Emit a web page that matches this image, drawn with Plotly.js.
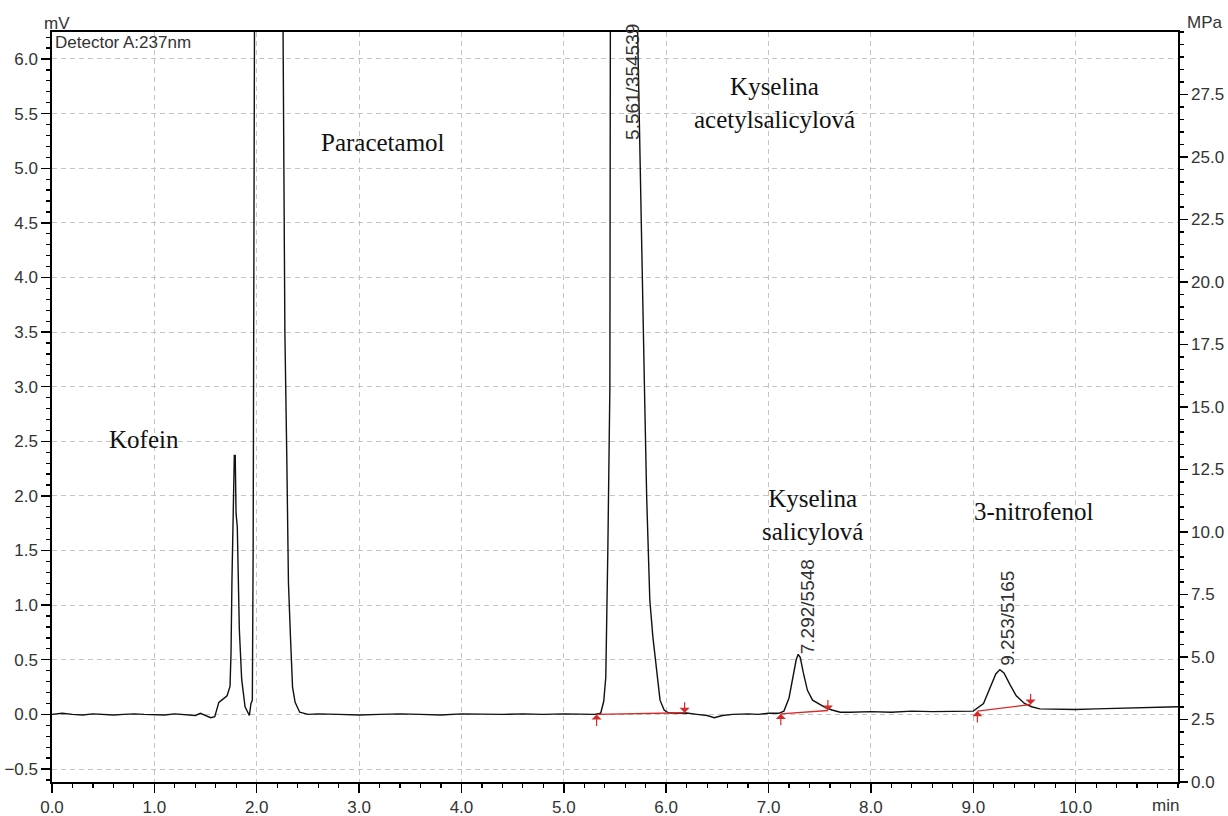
<!DOCTYPE html>
<html>
<head>
<meta charset="utf-8">
<script src="https://cdn.plot.ly/plotly-3.0.1.min.js"></script>
<style>
  html, body { margin: 0; padding: 0; background: #fff; }
  #chart { width: 1228px; height: 816px; }
</style>
</head>
<body>
<div id="chart"></div>
<script>
// ---- Chromatogram signal (time in min, signal in mV) ----
const timeMin = [
  0.00, 0.10, 0.20, 0.30, 0.40, 0.50, 0.60, 0.70, 0.80, 0.90,
  1.00, 1.10, 1.20, 1.30, 1.40, 1.45, 1.50, 1.55, 1.59,
  1.61, 1.63, 1.67, 1.71, 1.739, 1.749, 1.758, 1.772, 1.781, 1.79, 1.798,
  1.81, 1.83, 1.853, 1.886, 1.928, 1.944, 1.957, 1.965, 1.978,
  2.12,
  2.257, 2.275, 2.293, 2.31, 2.33, 2.35, 2.375, 2.42, 2.50,
  2.60, 2.80, 3.00, 3.20, 3.40, 3.60, 3.80, 4.00, 4.20, 4.40,
  4.60, 4.80, 5.00, 5.20, 5.30, 5.36, 5.39, 5.41, 5.42, 5.43,
  5.45, 5.46, 5.47,
  5.56,
  5.72, 5.744, 5.77, 5.79, 5.81, 5.84, 5.87, 5.90, 5.94, 5.98,
  6.02, 6.10, 6.20, 6.30, 6.40, 6.47, 6.55, 6.65, 6.80, 6.90,
  7.00, 7.10, 7.15, 7.20, 7.24, 7.27, 7.29, 7.31, 7.34, 7.38,
  7.43, 7.50, 7.56, 7.62, 7.70, 7.80, 8.00, 8.20, 8.40, 8.60,
  8.80, 9.00, 9.10, 9.17, 9.22, 9.26, 9.30, 9.36, 9.42, 9.50,
  9.57, 9.65, 9.80, 10.00, 10.20, 10.40, 10.60, 10.80, 11.00
];
const signalMV = [
  0.000, 0.010, 0.000, -0.005, 0.005, 0.000, -0.005, 0.000, 0.005, 0.000,
  0.000, -0.005, 0.005, 0.000, -0.010, 0.010, -0.010, -0.030, -0.020,
  0.060, 0.110, 0.140, 0.170, 0.256, 0.560, 1.230, 2.030, 2.370, 2.370, 1.840,
  1.720, 0.780, 0.320, 0.070, -0.010, 0.100, 0.130, 1.500, 6.300,
  45.0,
  6.300, 3.500, 2.400, 1.200, 0.700, 0.250, 0.110, 0.020, 0.000,
  0.005, 0.000, -0.005, 0.000, 0.005, 0.000, -0.005, 0.005, 0.000, 0.000,
  0.005, 0.000, 0.005, 0.000, 0.000, 0.010, 0.120, 0.340, 0.770, 1.500,
  3.000, 5.000, 6.300,
  80.0,
  6.300, 5.000, 3.800, 2.880, 1.970, 1.050, 0.710, 0.440, 0.130, 0.040,
  0.015, 0.010, 0.012, 0.000, -0.010, -0.030, -0.010, 0.000, 0.005, 0.000,
  0.010, 0.010, 0.030, 0.150, 0.350, 0.500, 0.550, 0.520, 0.380, 0.220,
  0.130, 0.090, 0.060, 0.040, 0.020, 0.020, 0.025, 0.020, 0.030, 0.025,
  0.030, 0.030, 0.100, 0.250, 0.370, 0.410, 0.380, 0.270, 0.170, 0.100,
  0.070, 0.050, 0.045, 0.045, 0.050, 0.055, 0.060, 0.065, 0.070
];

// ---- Integration baselines (red) ----
const baseStartT = [5.32, 7.12, 9.04];
const baseStartV = [0.000, 0.005, 0.030];
const baseEndT   = [6.18, 7.58, 9.56];
const baseEndV   = [0.015, 0.036, 0.090];

// ---- Peak labels ----
const peakLabels = ["5.561/354539", "7.292/5548", "9.253/5165"];
const peakLabelT = [5.676, 7.376, 9.340];
const peakLabelV = [5.79, 0.981, 0.876];

const compoundNames = ["Kofein", "Paracetamol", "Kyselina<br>acetylsalicylová", "Kyselina<br>salicylová", "3-nitrofenol"];
const compoundT = [0.894, 3.234, 7.063, 7.425, 9.584];
const compoundV = [2.515, 5.234, 5.60, 1.828, 1.856];

// ---- Axis ticks ----
const xTickVals = [0,1,2,3,4,5,6,7,8,9,10];
const xTickText = ["0.0","1.0","2.0","3.0","4.0","5.0","6.0","7.0","8.0","9.0","10.0"];
const y2TickVals = [0,2.5,5,7.5,10,12.5,15,17.5,20,22.5,25,27.5];
const y2TickText = ["0.0","2.5","5.0","7.5","10.0","12.5","15.0","17.5","20.0","22.5","25.0","27.5"];

const RED = '#d42a2a';
const TICKFONT = {family: 'Liberation Sans, Arial, sans-serif', size: 17, color: '#333333'};
const SERIF = {family: 'Liberation Serif, Times New Roman, serif', size: 25, color: '#111111'};

const traces = [
  {
    x: timeMin, y: signalMV, type: 'scatter', mode: 'lines',
    line: {color: '#111111', width: 1.4},
    cliponaxis: true, hoverinfo: 'skip', showlegend: false
  }
];
for (let i = 0; i < baseStartT.length; i++) {
  traces.push({
    x: [baseStartT[i], baseEndT[i]], y: [baseStartV[i], baseEndV[i]],
    type: 'scatter', mode: 'lines',
    line: {color: RED, width: 1.4},
    hoverinfo: 'skip', showlegend: false
  });
}
// dummy trace on y2 so the right axis is drawn
traces.push({x: [0], y: [0], yaxis: 'y2', type: 'scatter', mode: 'markers',
  marker: {opacity: 0}, hoverinfo: 'skip', showlegend: false});

const annotations = [];
for (let i = 0; i < baseStartT.length; i++) {
  annotations.push({x: baseStartT[i], y: baseStartV[i], xref: 'x', yref: 'y', text: '',
    showarrow: true, ax: 0, ay: 13, arrowhead: 1, arrowsize: 1.4, arrowwidth: 1.2, arrowcolor: RED, standoff: 0});
  annotations.push({x: baseEndT[i], y: baseEndV[i], xref: 'x', yref: 'y', text: '',
    showarrow: true, ax: 0, ay: -12, arrowhead: 1, arrowsize: 1.4, arrowwidth: 1.2, arrowcolor: RED, standoff: 0});
}
for (let i = 0; i < peakLabels.length; i++) {
  annotations.push({x: peakLabelT[i], y: peakLabelV[i], xref: 'x', yref: 'y', text: peakLabels[i],
    textangle: -90, showarrow: false, xanchor: 'center', yanchor: 'middle',
    font: {family: 'Liberation Sans, Arial, sans-serif', size: 19, color: '#333333'}});
}
for (let i = 0; i < compoundNames.length; i++) {
  annotations.push({x: compoundT[i], y: compoundV[i], xref: 'x', yref: 'y', text: compoundNames[i],
    showarrow: false, xanchor: 'center', yanchor: 'middle', font: SERIF});
}
annotations.push({x: 0.01, y: 6.149, xref: 'x', yref: 'y', text: 'Detector A:237nm', showarrow: false,
  xanchor: 'left', yanchor: 'middle', font: TICKFONT});
annotations.push({x: 0.0044, y: 1.011, xref: 'paper', yref: 'paper', text: 'mV', showarrow: false,
  xanchor: 'center', yanchor: 'middle', font: TICKFONT});
annotations.push({x: 1.024, y: 1.013, xref: 'paper', yref: 'paper', text: 'MPa', showarrow: false,
  xanchor: 'center', yanchor: 'middle', font: TICKFONT});
annotations.push({x: 0.9885, y: -0.0316, xref: 'paper', yref: 'paper', text: 'min', showarrow: false,
  xanchor: 'center', yanchor: 'middle', font: TICKFONT});

const layout = {
  width: 1228, height: 816,
  margin: {l: 52, r: 50, t: 32, b: 34, pad: 0},
  paper_bgcolor: '#ffffff', plot_bgcolor: '#ffffff',
  showlegend: false,
  xaxis: {
    range: [0, 11], tickmode: 'array', tickvals: xTickVals, ticktext: xTickText,
    showline: true, linecolor: '#000', linewidth: 1.6, mirror: true,
    ticks: 'outside', ticklen: 9, tickwidth: 1.4, tickcolor: '#000',
    minor: {dtick: 0.2, tick0: 0, ticks: 'outside', ticklen: 4, tickwidth: 1.2, tickcolor: '#000', showgrid: false},
    showgrid: true, gridcolor: '#c4c4c4', griddash: '5px,4px', gridwidth: 1,
    zeroline: false, tickfont: TICKFONT, automargin: false
  },
  yaxis: {
    range: [-0.619, 6.247], dtick: 0.5, tick0: 0, tickformat: '.1f',
    showline: true, linecolor: '#000', linewidth: 1.6,
    ticks: 'outside', ticklen: 9, tickwidth: 1.4, tickcolor: '#000',
    minor: {dtick: 0.1, tick0: 0, ticks: 'outside', ticklen: 4, tickwidth: 1.2, tickcolor: '#000', showgrid: false},
    showgrid: true, gridcolor: '#c4c4c4', griddash: '5px,4px', gridwidth: 1,
    zeroline: false, tickfont: TICKFONT, automargin: false
  },
  yaxis2: {
    overlaying: 'y', side: 'right', range: [0, 30],
    tickmode: 'array', tickvals: y2TickVals, ticktext: y2TickText,
    showline: true, linecolor: '#000', linewidth: 1.6,
    ticks: 'outside', ticklen: 8, tickwidth: 1.4, tickcolor: '#000',
    minor: {dtick: 0.5, tick0: 0, ticks: 'outside', ticklen: 4, tickwidth: 1.2, tickcolor: '#000', showgrid: false},
    showgrid: false, zeroline: false, tickfont: TICKFONT, automargin: false
  },
  annotations: annotations
};

Plotly.newPlot('chart', traces, layout, {staticPlot: true, displayModeBar: false});
</script>
</body>
</html>
